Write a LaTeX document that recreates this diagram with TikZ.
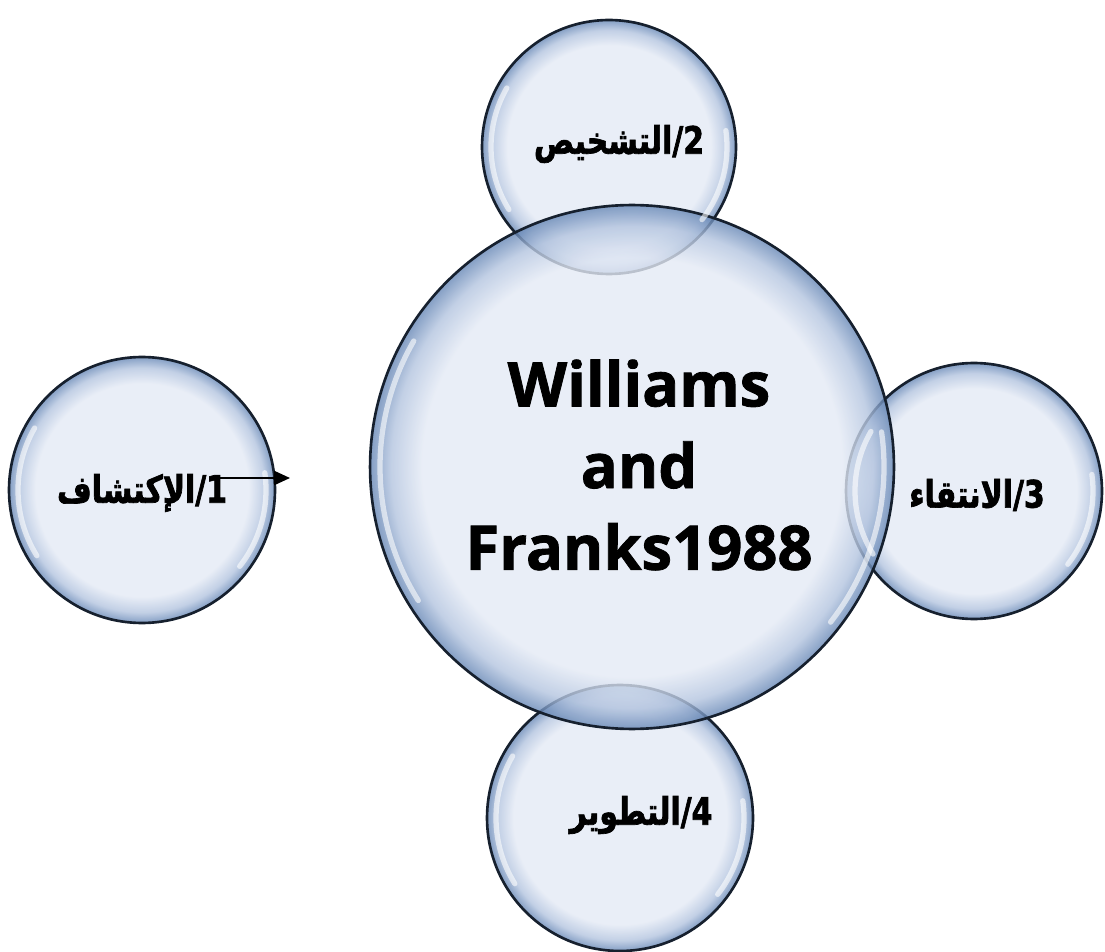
\documentclass[tikz,border=0pt]{standalone}
\usepackage{fontspec}
\setmainfont{Open Sans}[BoldFeatures={FakeBold=1.3}]
\newfontfamily\arabicfont[Script=Arabic, FakeStretch=0.79, BoldFeatures={FakeBold=1.8}]{DejaVu Sans}
\TeXXeTstate=1
\usetikzlibrary{arrows.meta}

\definecolor{bubin}{HTML}{E4EAF5}
\definecolor{bubmid}{HTML}{B3C4DF}
\definecolor{bubrim}{HTML}{6586B5}
\definecolor{bubline}{HTML}{16202E}
\pgfdeclareradialshading{bubbleshade}{\pgfpoint{0bp}{0bp}}{%
  color(0bp)=(bubin); color(20bp)=(bubin); color(23bp)=(bubmid);
  color(25bp)=(bubrim); color(50bp)=(bubrim)}

\begin{document}
\begin{tikzpicture}[
    x=0.02cm, y=-0.02cm,
    bubble/.style={circle, draw=bubline, line width=1.5pt, shading=bubbleshade, fill opacity=0.8, inner sep=0pt},
    gloss/.style={white, line width=3pt, opacity=0.6, line cap=round},
    steplabel/.style={font=\arabicfont\bfseries\fontsize{21.5}{25}\selectfont, inner sep=1pt},
    corelabel/.style={font=\bfseries\fontsize{35}{46.5}\selectfont, align=center}
]
\useasboundingbox (0,0) rectangle (1105,952);
% bubbles
\node[bubble, minimum size=5.08cm] (top) at (609,147) {};
\node[bubble, minimum size=5.12cm] (right) at (974,491) {};
\node[bubble, minimum size=5.32cm] (bottom) at (620,818) {};
\node[bubble, minimum size=5.32cm] (left) at (142,490) {};
\node[bubble, minimum size=10.48cm] (core) at (632,467) {};
% glossy edges
\foreach \b/\r in {top/118, right/119, bottom/124, left/124, core/252} {
  \draw[gloss] (\b) ++(-150:\r) arc[start angle=-150, end angle=-212, radius=\r];
  \draw[gloss] (\b) ++(38:\r) arc[start angle=38, end angle=-8, radius=\r];
}
% texts
\node[corelabel] (coretext) at (639,465) {Williams\\and\\Franks1988};
\node[steplabel] (step1) at (142,493) {\beginR 1/الإكتشاف\endR};
\node[steplabel] (step2) at (619,144) {\beginR 2/التشخيص\endR};
\node[steplabel] (step3) at (977,495) {\beginR 3/الانتقاء\endR};
\node[steplabel] (step4) at (641,815) {\beginR 4/التطوير\endR};
% arrow
\coordinate (arrS) at (213,478);
\coordinate (arrE) at (290,478);
\draw[line width=1.2pt, -{Triangle[length=9pt,width=8pt]}] (arrS) -- (arrE);
\end{tikzpicture}
\end{document}
